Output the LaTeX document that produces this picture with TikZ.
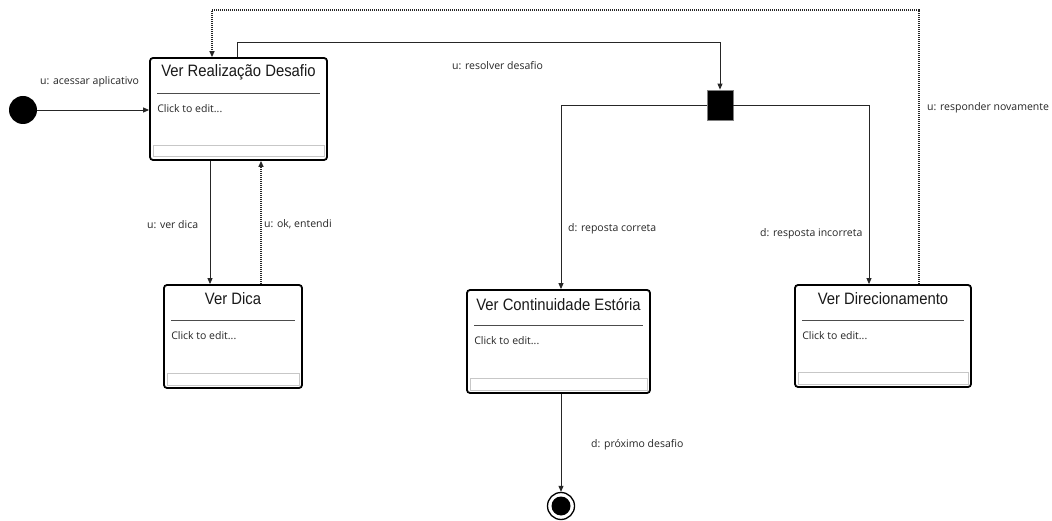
\documentclass[tikz,border=0pt]{standalone}
\usepackage{fontspec}
\setmainfont{Open Sans}
\newfontfamily\titlefont[FakeStretch=0.9]{Liberation Sans}
\usetikzlibrary{arrows.meta,calc}

% one UML state: name, centre x, centre y, width, height, title
\newcommand\umlstate[6]{%
  \node[statebox, minimum width=#4pt, minimum height=#5pt] (#1) at (#2,#3) {};
  \node[ttl] (#1-t) at ($(#1.north)+(0,15)$) {#6};
  \draw[sep] ($(#1.north west)+(8,36)$) -- ($(#1.north east)+(-8,36)$);
  \node[edit] (#1-e) at ($(#1.north west)+(8,51)$) {Click to edit...};
  \draw[slot] ($(#1.south west)+(4,-4)$) rectangle ($(#1.south east)+(-4,-15.5)$);
}

\begin{document}
\begin{tikzpicture}[x=1pt,y=-1pt,
  statebox/.style={draw=black, line width=1.8pt, rounded corners=3pt, fill=white, inner sep=0pt},
  ttl/.style={font=\titlefont\fontsize{16.5}{18}\selectfont, text=black!90, inner sep=0pt},
  sep/.style={draw=black!70, line width=1pt},
  slot/.style={draw=black!22, line width=0.8pt},
  edit/.style={font=\fontsize{10.5}{12}\selectfont, text=black!85, inner sep=0pt, anchor=west},
  lbl/.style={font=\fontsize{10.5}{12}\selectfont, text=black!85, inner sep=0pt, anchor=west},
  conn/.style={draw=black!85, line width=0.9pt, -{Triangle[length=6pt,width=5pt]}},
  dotconn/.style={conn, dash pattern=on 1pt off 1pt, line width=1.3pt},
]
\fill[white] (0,0) rectangle (1052,521);
\useasboundingbox (0,0) rectangle (1052,521);

% states
\umlstate{real}{238.5}{109}{177}{102}{Ver Realização Desafio}
\umlstate{dica}{233}{336.5}{138}{103}{Ver Dica}
\umlstate{cont}{558.5}{341.5}{183}{103}{Ver Continuidade Estória}
\umlstate{dir}{883}{336}{176}{102}{Ver Direcionamento}

% pseudo states
\node[circle, fill=black, minimum size=28pt, inner sep=0pt] (ini) at (23,110) {};
\node[circle, draw=black, line width=1.3pt, fill=white, minimum size=27pt, inner sep=0pt] (fim) at (561,506) {};
\node[circle, fill=black, minimum size=19pt, inner sep=0pt] (fimc) at (561,506) {};
\node[draw=black!50, fill=black, minimum width=26pt, minimum height=30pt, inner sep=0pt, line width=0.8pt] (jn) at (720,105) {};

% routing guides
\coordinate (xa) at (210,0);
\coordinate (xb) at (261,0);
\coordinate (xc) at (237,0);
\coordinate (xd) at (212,0);
\coordinate (xe) at (919,0);
\coordinate (xf) at (561,0);
\coordinate (xg) at (869,0);
\coordinate (ya) at (0,42);
\coordinate (yb) at (0,10);

% transitions
\draw[conn] (ini.east) -- (ini.east -| real.west);
\draw[conn] (real.south -| xa) -- (dica.north -| xa);
\draw[dotconn] (dica.north -| xb) -- (real.south -| xb);
\draw[conn] (real.north -| xc) |- (jn |- ya) -- (jn.north);
\draw[conn] (jn.west) -| (cont.north -| xf);
\draw[conn] (jn.east) -| (dir.north -| xg);
\draw[dotconn] (dir.north -| xe) |- (xd |- yb) -- (real.north -| xd);
\draw[conn] (cont.south -| xf) -- (fim.north);

% transition labels
\node[lbl] (l1) at (40,82) {u: acessar aplicativo};
\node[lbl] (l2) at (147,225) {u: ver dica};
\node[lbl] (l3) at (264,224) {u: ok, entendi};
\node[lbl] (l4) at (452,66) {u: resolver desafio};
\node[lbl] (l5) at (568,229) {d: reposta correta};
\node[lbl] (l6) at (760,234) {d: resposta incorreta};
\node[lbl] (l7) at (927,108) {u: responder novamente};
\node[lbl] (l8) at (591,445) {d: próximo desafio};
\end{tikzpicture}
\end{document}
